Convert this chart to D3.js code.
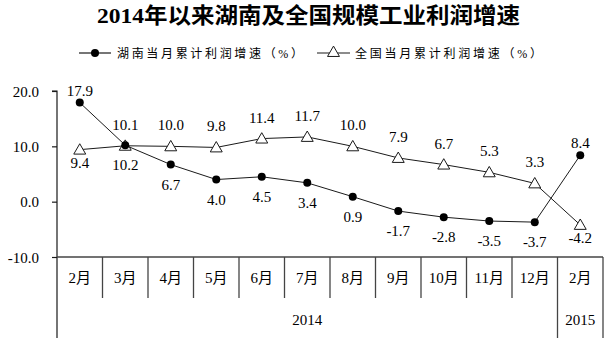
<!DOCTYPE html>
<html>
<head>
<meta charset="utf-8">
<script src="https://cdn.jsdelivr.net/npm/d3@7"></script>
<style>
  html, body { margin: 0; padding: 0; background: #fff; }
  svg { display: block; }
  text { font-family: "Liberation Serif", "Times New Roman", "Noto Sans CJK SC", serif; fill: #000; }
</style>
</head>
<body>
<svg id="chart" width="611" height="338"></svg>
<script>
// Categories (months) and their year groups
const months = ["2月", "3月", "4月", "5月", "6月", "7月", "8月", "9月", "10月", "11月", "12月", "2月"];
const years = [
  { label: "2014", from: 0, to: 10 },
  { label: "2015", from: 11, to: 11 }
];

// Cumulative profit growth of industrial enterprises above designated size (%)
const hunanValues = [17.9, 10.2, 6.7, 4.0, 4.5, 3.4, 0.9, -1.7, -2.8, -3.5, -3.7, 8.4];
const nationValues = [9.4, 10.1, 10.0, 9.8, 11.4, 11.7, 10.0, 7.9, 6.7, 5.3, 3.3, -4.2];

// Where each value label sits relative to its point
const hunanLabelSide = ["up", "down", "down", "down", "down", "down", "down", "down", "down", "down", "down", "up"];
const nationLabelSide = ["down", "up", "up", "up", "up", "up", "up", "up", "up", "up", "up", "down"];

const yTicks = [20, 10, 0, -10];

const titleText = "2014年以来湖南及全国规模工业利润增速";
const hunanName = "湖南当月累计利润增速（%）";
const nationName = "全国当月累计利润增速（%）";

// One decimal place, plain hyphen for negatives
const fmt = d3.formatLocale({ decimal: ".", thousands: ",", grouping: [3], currency: ["", ""], minus: "-" }).format(".1f");

const svg = d3.select("#chart");
const plot = { left: 57, right: 603, top: 91, bottom: 257 };

const x = d3.scaleBand().domain(d3.range(months.length)).range([plot.left, plot.right]).padding(0);
const y = d3.scaleLinear().domain([-10, 20]).range([plot.bottom, plot.top]);
const cx = i => x(i) + x.bandwidth() / 2;

const ink = "#1a1a1a";

// Title
svg.append("text")
  .attr("x", 97).attr("y", 23)
  .attr("font-size", 22).attr("font-weight", "bold")
  .attr("textLength", 423).attr("lengthAdjust", "spacingAndGlyphs")
  .text(titleText);

// Legend
const triPath = d3.symbol().type(d3.symbolTriangle).size(62);
function legendItem(x0, x1, tx, tEnd, name, kind) {
  const g = svg.append("g");
  g.append("line").attr("x1", x0).attr("x2", x1).attr("y1", 53).attr("y2", 53)
    .attr("stroke", ink).attr("stroke-width", 1.2);
  const mx = (x0 + x1) / 2;
  if (kind === "dot") {
    g.append("circle").attr("cx", mx).attr("cy", 53).attr("r", 4).attr("fill", "#000");
  } else {
    g.append("path").attr("d", triPath).attr("transform", `translate(${mx},53)`)
      .attr("fill", "#fff").attr("stroke", ink).attr("stroke-width", 1);
  }
  g.append("text").attr("x", tx).attr("y", 57.5).attr("font-size", 12)
    .attr("textLength", tEnd - tx).attr("lengthAdjust", "spacing")
    .text(name);
}
legendItem(79, 111, 117, 303, hunanName, "dot");
legendItem(317, 350, 355, 542, nationName, "tri");

// Y axis
const yAxis = d3.axisLeft(y).tickValues(yTicks).tickSize(5).tickPadding(0).tickFormat(fmt);
const gy = svg.append("g").attr("transform", `translate(${plot.left},0)`).call(yAxis);
gy.select(".domain").attr("stroke", ink).attr("stroke-width", 1.2).attr("d", `M-5,${plot.top}H0V338`);
gy.selectAll(".tick line").attr("stroke", ink).attr("stroke-width", 1.2);
gy.selectAll(".tick text").attr("x", -18).attr("dy", "0.35em")
  .attr("font-size", 15).attr("font-family", "Liberation Serif, serif").attr("fill", "#000");

// X axis baseline
svg.append("line").attr("x1", plot.left).attr("x2", plot.right)
  .attr("y1", plot.bottom).attr("y2", plot.bottom)
  .attr("stroke", "#444").attr("stroke-width", 1.5);

// Category dividers: short between months, full height at year boundaries
const yearEdges = new Set(years.map(g => g.from));
for (let i = 1; i <= months.length; i++) {
  const xe = i === months.length ? plot.right : x(i);
  const full = i === months.length || yearEdges.has(i);
  svg.append("line").attr("x1", xe).attr("x2", xe)
    .attr("y1", plot.bottom).attr("y2", full ? 338 : 298)
    .attr("stroke", "#444").attr("stroke-width", 1.3);
}

// Month labels
svg.append("g").selectAll("text").data(months).join("text")
  .attr("x", (d, i) => cx(i)).attr("y", 283)
  .attr("text-anchor", "middle").attr("font-size", 15)
  .text(d => d);

// Year labels
svg.append("g").selectAll("text").data(years).join("text")
  .attr("x", d => (x(d.from) + x(d.to) + x.bandwidth()) / 2).attr("y", 325)
  .attr("text-anchor", "middle").attr("font-size", 15)
  .text(d => d.label);

// Series lines
const line = d3.line().x((d, i) => cx(i)).y(d => y(d));
svg.append("path").datum(nationValues).attr("d", line)
  .attr("fill", "none").attr("stroke", ink).attr("stroke-width", 1);
svg.append("path").datum(hunanValues).attr("d", line)
  .attr("fill", "none").attr("stroke", ink).attr("stroke-width", 1);

// Markers
svg.append("g").selectAll("path").data(nationValues).join("path")
  .attr("d", triPath)
  .attr("transform", (d, i) => `translate(${cx(i)},${y(d) + 1})`)
  .attr("fill", "#fff").attr("stroke", ink).attr("stroke-width", 1);
svg.append("g").selectAll("circle").data(hunanValues).join("circle")
  .attr("cx", (d, i) => cx(i)).attr("cy", d => y(d)).attr("r", 4).attr("fill", "#000");

// Value labels
function valueLabels(values, sides, upGap, downGap) {
  svg.append("g").selectAll("text").data(values).join("text")
    .attr("x", (d, i) => cx(i))
    .attr("y", (d, i) => sides[i] === "up" ? y(d) - upGap : y(d) + downGap)
    .attr("text-anchor", "middle").attr("font-size", 15)
    .text(d => fmt(d));
}
valueLabels(hunanValues, hunanLabelSide, 7, 25);
valueLabels(nationValues, nationLabelSide, 16, 18);
</script>
</body>
</html>
